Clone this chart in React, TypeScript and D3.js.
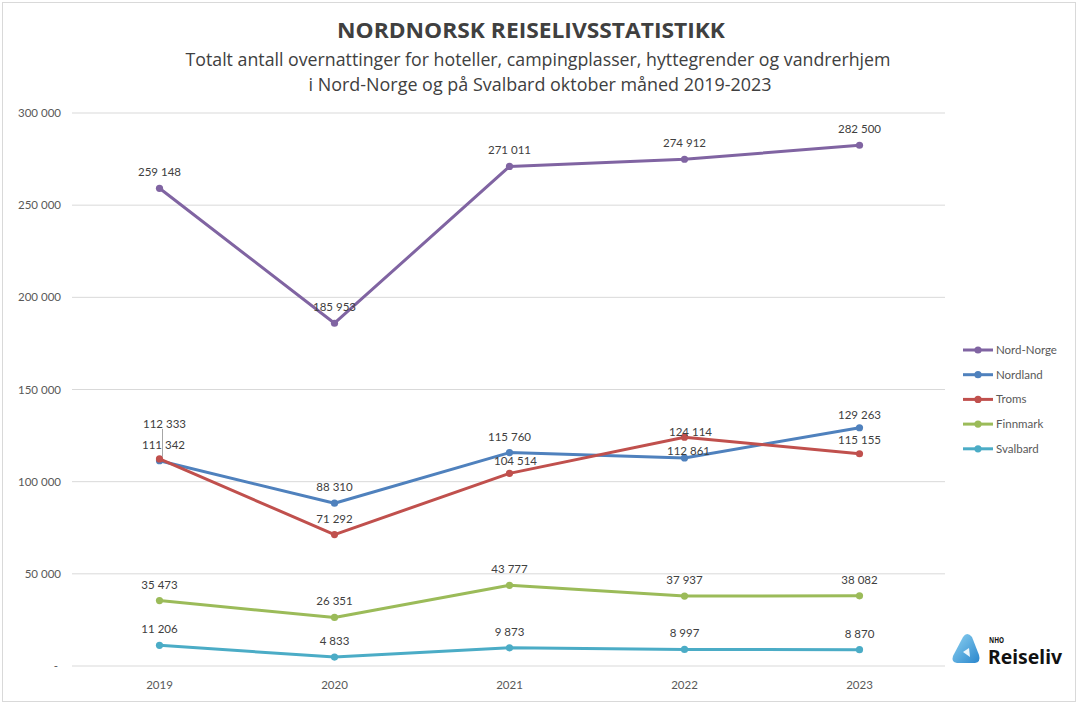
import React from "react";
import * as d3 from "d3";

const years = ["2019", "2020", "2021", "2022", "2023"];
const nordNorge = [259148, 185953, 271011, 274912, 282500];
const nordland = [111342, 88310, 115760, 112861, 129263];
const troms = [112333, 71292, 104514, 124114, 115155];
const finnmark = [35473, 26351, 43777, 37937, 38082];
const svalbard = [11206, 4833, 9873, 8997, 8870];
const yTicks = [0, 50000, 100000, 150000, 200000, 250000, 300000];

const seriesNames = ["Nord-Norge", "Nordland", "Troms", "Finnmark", "Svalbard"];
const seriesValues = [nordNorge, nordland, troms, finnmark, svalbard];
const seriesColors = ["#8064A2", "#4F81BD", "#C0504D", "#9BBB59", "#4BACC6"];

const W = 1079;
const H = 707;

const fmt = (v: number) => {
  if (v === 0) return "-";
  const s = d3.format(",")(v);
  return s.replace(/,/g, " ");
};

export default function App() {
  const x = d3.scaleBand().domain(years).range([72, 947]);
  const y = d3.scaleLinear().domain([0, 300000]).range([666, 113]);
  const cx = (yr: string) => (x(yr) as number) + x.bandwidth() / 2;
  const line = d3
    .line<number>()
    .x((_, i) => cx(years[i]))
    .y((d) => y(d));

  const labelFont = "Lato, 'Open Sans', sans-serif";
  const titleFont = "'Liberation Sans Narrow', 'Open Sans', sans-serif";

  const labelPos = (si: number, i: number, v: number): [number, number] => {
    const px = cx(years[i]);
    const py = y(v);
    if (si === 2 && i === 0) return [px + 5, py - 31];
    if (si === 1 && i === 0) return [px + 4, py - 12];
    if (si === 2 && i === 2) return [px + 6, py - 8];
    if (si === 2 && i === 3) return [px + 6, py - 1];
    if (si === 1 && i === 3) return [px + 4, py - 3];
    if (si === 1 && i === 4) return [px, py - 9];
    if (si === 2 && i === 4) return [px, py - 10];
    return [px, py - 12];
  };

  return (
    <svg width={W} height={H} style={{ position: "absolute", left: 0, top: 0, background: "#fff" }}>
      <rect x={2.5} y={2.5} width={1073} height={699} fill="#fff" stroke="#d9d9d9" strokeWidth={1} />
      <text x={531} y={38} textAnchor="middle" fontFamily={titleFont} fontWeight="bold" fontSize={22} fill="#404040" textLength={388} lengthAdjust="spacingAndGlyphs">
        NORDNORSK REISELIVSSTATISTIKK
      </text>
      <text x={538} y={66} textAnchor="middle" fontFamily={titleFont} fontSize={19} fill="#404040" textLength={705} lengthAdjust="spacingAndGlyphs">
        Totalt antall overnattinger for hoteller, campingplasser, hyttegrender og vandrerhjem
      </text>
      <text x={540} y={91} textAnchor="middle" fontFamily={titleFont} fontSize={19} fill="#404040" textLength={463} lengthAdjust="spacingAndGlyphs">
        i Nord-Norge og på Svalbard oktober måned 2019-2023
      </text>

      {yTicks.map((t) => (
        <g key={t}>
          <line x1={72} x2={945} y1={y(t)} y2={y(t)} stroke="#d9d9d9" strokeWidth={1} />
          <text x={t === 0 ? 58 : 61} y={y(t) + 4} textAnchor="end" fontFamily={labelFont} fontSize={11.5} fill="#595959">
            {fmt(t)}
          </text>
        </g>
      ))}
      {years.map((yr) => (
        <text key={yr} x={cx(yr)} y={689} textAnchor="middle" fontFamily={labelFont} fontSize={11.5} fill="#595959">
          {yr}
        </text>
      ))}

      {seriesValues.map((vals, si) => (
        <g key={seriesNames[si]}>
          <path d={line(vals) as string} fill="none" stroke={seriesColors[si]} strokeWidth={3} strokeLinejoin="round" />
          {vals.map((v, i) => (
            <circle key={i} cx={cx(years[i])} cy={y(v)} r={3.6} fill={seriesColors[si]} />
          ))}
        </g>
      ))}

      {/* leader line for displaced label */}
      <line x1={cx("2019") + 3} x2={cx("2019") + 3} y1={y(troms[0]) - 2} y2={y(troms[0]) - 30} stroke="#a6a6a6" strokeWidth={1} />

      {seriesValues.map((vals, si) =>
        vals.map((v, i) => {
          const [lx, ly] = labelPos(si, i, v);
          return (
            <text key={si + "-" + i} x={lx} y={ly} textAnchor="middle" fontFamily={labelFont} fontSize={11.5} fill="#404040">
              {fmt(v)}
            </text>
          );
        })
      )}

      {seriesNames.map((n, i) => {
        const ly = 350 + i * 24.7;
        return (
          <g key={n}>
            <line x1={963} x2={993} y1={ly} y2={ly} stroke={seriesColors[i]} strokeWidth={3} />
            <circle cx={978} cy={ly} r={3.6} fill={seriesColors[i]} />
            <text x={996} y={ly + 4} fontFamily={labelFont} fontSize={11.5} fill="#595959">
              {n}
            </text>
          </g>
        );
      })}

      {/* NHO Reiseliv logo */}
      <defs>
        <linearGradient id="logoGrad" x1="0" y1="0" x2="1" y2="1">
          <stop offset="0" stopColor="#8fd3f2" />
          <stop offset="1" stopColor="#2a86cc" />
        </linearGradient>
      </defs>
      <g>
        <path d="M963,637 Q967,631 972,637 L979,655 Q981,662 975,663 L957,663 Q951,662 953,656 Z" fill="url(#logoGrad)" />
        <path d="M963,652 L969,648 L970,657 Z" fill="#ffffff" opacity={0.9} />
        <text x={989} y={643} fontFamily="'Noto Sans', sans-serif" fontWeight="bold" fontSize={9.5} fill="#111" textLength={15} lengthAdjust="spacingAndGlyphs">NHO</text>
        <text x={988} y={664} fontFamily="'Noto Sans', sans-serif" fontWeight="bold" fontSize={19} fill="#111" textLength={74} lengthAdjust="spacingAndGlyphs">Reiseliv</text>
      </g>
    </svg>
  );
}
